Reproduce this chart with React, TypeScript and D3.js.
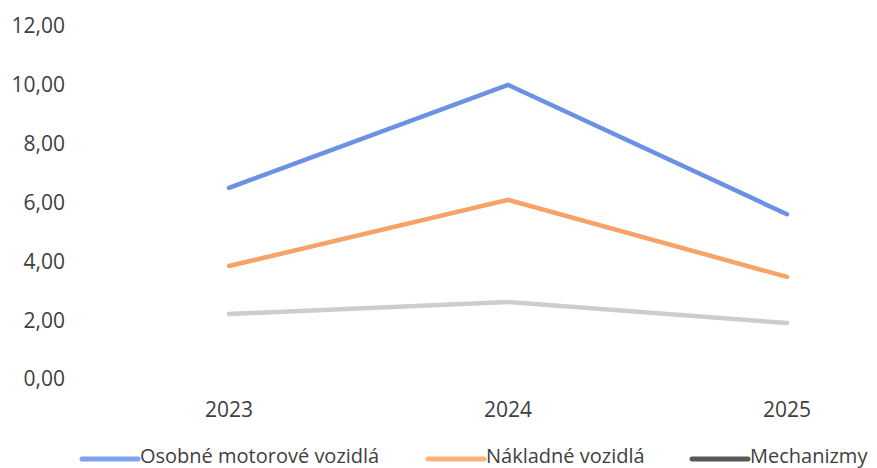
import React from "react";
import * as d3 from "d3";

const years = ["2023", "2024", "2025"];
const osobne = [6.5, 10.0, 5.6];
const nakladne = [3.84, 6.09, 3.47];
const mechanizmy = [2.21, 2.62, 1.9];
const yTicks = [0, 2, 4, 6, 8, 10, 12];
const seriesNames = ["Osobné motorové vozidlá", "Nákladné vozidlá", "Mechanizmy"];

const W = 877;
const H = 468;
const FONT = "'Open Sans', sans-serif";

export default function App() {
  const x = d3.scalePoint<string>().domain(years).range([229, 787]);
  const y = d3.scaleLinear().domain([0, 12]).range([379, 26]);
  const line = d3
    .line<number>()
    .x((_, i) => x(years[i]) as number)
    .y((d) => y(d));

  const series = [
    { name: seriesNames[0], values: osobne, color: "#6a91e4", legend: "#7ea2ef" },
    { name: seriesNames[1], values: nakladne, color: "#f7a266", legend: "#fdb27a" },
    { name: seriesNames[2], values: mechanizmy, color: "#cdcdcd", legend: "#595959" },
  ];
  const legendX = [82, 428, 692];

  return (
    <svg
      width={W}
      height={H}
      style={{ position: "absolute", left: 0, top: 0, background: "#fff" }}
      fontFamily={FONT}
    >
      {yTicks.map((t) => (
        <text
          key={t}
          x={65}
          y={y(t)}
          dy="0.35em"
          textAnchor="end"
          fontSize={21}
          fill="#404040"
        >
          {d3.format(".2f")(t).replace(".", ",")}
        </text>
      ))}
      {years.map((yr) => (
        <text
          key={yr}
          x={x(yr)}
          y={410}
          dy="0.35em"
          textAnchor="middle"
          fontSize={21}
          fill="#404040"
        >
          {yr}
        </text>
      ))}
      {series.map((s) => (
        <path
          key={s.name}
          d={line(s.values) || ""}
          fill="none"
          stroke={s.color}
          strokeWidth={4.5}
          strokeLinecap="round"
          strokeLinejoin="miter"
        />
      ))}
      {series.map((s, i) => (
        <g key={"lg" + i}>
          <line
            x1={legendX[i]}
            x2={legendX[i] + 56}
            y1={459}
            y2={459}
            stroke={s.legend}
            strokeWidth={5}
            strokeLinecap="round"
          />
          <text x={legendX[i] + 58} y={463} fontSize={20} fill="#404040">
            {s.name}
          </text>
        </g>
      ))}
    </svg>
  );
}
